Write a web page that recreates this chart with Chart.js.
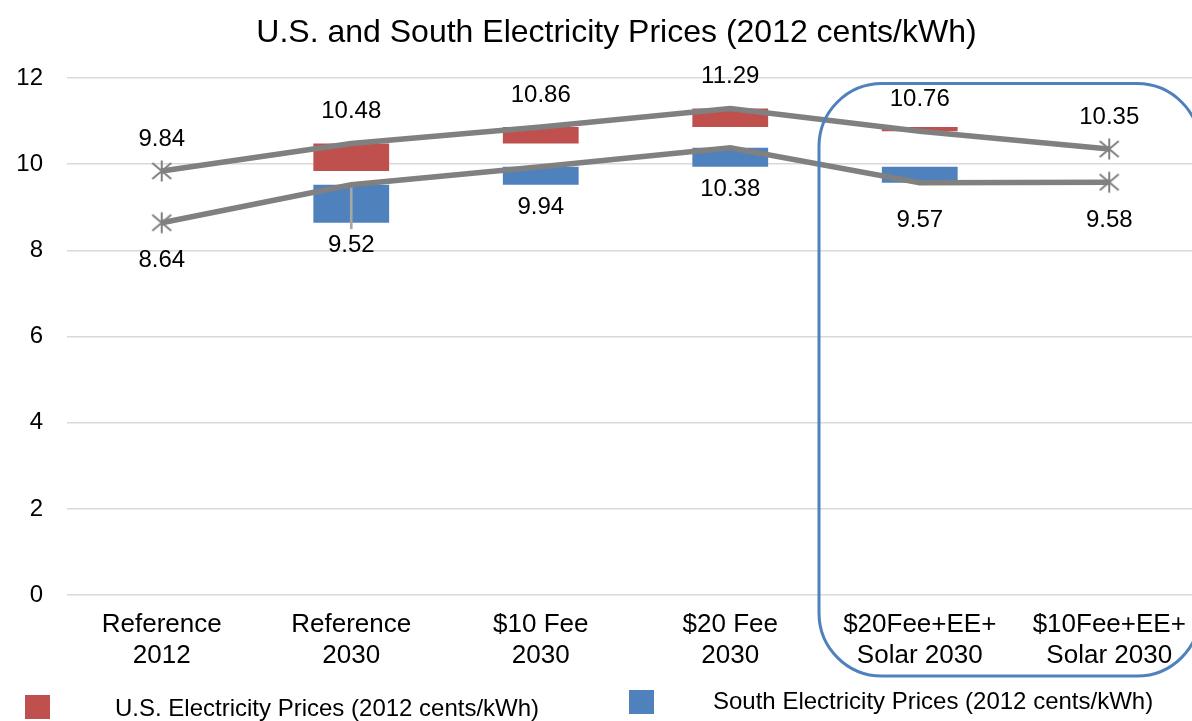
<!DOCTYPE html>
<html>
<head>
<meta charset="utf-8">
<script src="https://cdn.jsdelivr.net/npm/chart.js@4.4.1/dist/chart.umd.min.js"></script>
<style>
  html, body { margin: 0; padding: 0; background: #fff; overflow: hidden; }
  #wrap { width: 1192px; height: 721px; overflow: hidden; }
</style>
</head>
<body>
<div id="wrap">
  <canvas id="priceChart" width="1262" height="721"></canvas>
</div>
<script>
const scenarios = [
  ['Reference', '2012'],
  ['Reference', '2030'],
  ['$10 Fee', '2030'],
  ['$20 Fee', '2030'],
  ['$20Fee+EE+', 'Solar 2030'],
  ['$10Fee+EE+', 'Solar 2030']
];

// price levels by scenario (2012 cents/kWh)
const usPrices = [9.84, 10.48, 10.86, 11.29, 10.76, 10.35];
const southPrices = [8.64, 9.52, 9.94, 10.38, 9.57, 9.58];

// change bars: [from, to] relative to the previous scenario
const usChange = [null, [9.84, 10.48], [10.48, 10.86], [10.86, 11.29], [10.76, 10.86], null];
const southChange = [null, [8.64, 9.52], [9.52, 9.94], [9.94, 10.38], [9.57, 9.94], null];
const southDrop = [null, [8.5, 9.52], null, null, null, null];

const yTicks = [0, 2, 4, 6, 8, 10, 12];

const RED = '#c0504d';
const BLUE = '#4f81bd';
const GRAY = '#808080';
const FONT = "'Liberation Sans', Arial, sans-serif";

// asterisk marker for the end points
function makeStar() {
  const c = document.createElement('canvas');
  c.width = 24; c.height = 24;
  const g = c.getContext('2d');
  g.strokeStyle = GRAY;
  g.lineWidth = 2;
  g.beginPath();
  g.moveTo(12, 1.5); g.lineTo(12, 22.5);
  g.moveTo(2.5, 4); g.lineTo(21.5, 20);
  g.moveTo(21.5, 4); g.lineTo(2.5, 20);
  g.stroke();
  return c;
}
const star = makeStar();
const endPoints = usPrices.map((v, i) => (i === 0 || i === usPrices.length - 1) ? 10 : 0);

// nudge the title box so it centres a little to the right
const titleShift = {
  id: 'titleShift',
  afterLayout(chart) {
    if (chart.titleBlock) chart.titleBlock.left += 29;
  }
};

const valueLabels = {
  id: 'valueLabels',
  afterDatasetsDraw(chart) {
    const ctx = chart.ctx;
    const y = chart.scales.y;
    ctx.save();
    ctx.font = '24px ' + FONT;
    ctx.fillStyle = '#000';
    ctx.textAlign = 'center';
    ctx.textBaseline = 'middle';
    chart.getDatasetMeta(0).data.forEach((pt, i) => {
      ctx.fillText(usPrices[i].toFixed(2), pt.x, pt.y - 32);
    });
    chart.getDatasetMeta(1).data.forEach((pt, i) => {
      let ly = pt.y + 38;
      if (southChange[i]) {
        const barBottom = y.getPixelForValue(Math.min(...southChange[i]));
        ly = Math.max(ly, barBottom + 23);
      }
      ctx.fillText(southPrices[i].toFixed(2), pt.x, ly);
    });
    ctx.restore();
  }
};

// rounded outline around the combined-policy scenarios
const highlight = {
  id: 'highlight',
  afterDraw(chart) {
    const x = chart.scales.x, y = chart.scales.y;
    const left = x.getPixelForValue(3.5) - 6;
    const right = x.getPixelForValue(5.5) - 4;
    const top = y.getPixelForValue(11.87);
    const bottom = y.getPixelForValue(0) + 81;
    const r = 63;
    const ctx = chart.ctx;
    ctx.save();
    ctx.strokeStyle = BLUE;
    ctx.lineWidth = 3;
    ctx.beginPath();
    ctx.roundRect(left, top, right - left, bottom - top, r);
    ctx.stroke();
    ctx.restore();
  }
};

const bottomLegend = {
  id: 'bottomLegend',
  afterDraw(chart) {
    const ctx = chart.ctx;
    const items = [
      { ds: chart.data.datasets[2], box: [25, 695], text: [115, 709] },
      { ds: chart.data.datasets[3], box: [629, 690], text: [713, 702] }
    ];
    ctx.save();
    ctx.font = '24px ' + FONT;
    ctx.textBaseline = 'middle';
    ctx.textAlign = 'left';
    items.forEach(it => {
      ctx.fillStyle = it.ds.backgroundColor;
      ctx.fillRect(it.box[0], it.box[1], 25, 24);
      ctx.fillStyle = '#000';
      ctx.fillText(it.ds.label, it.text[0], it.text[1]);
    });
    ctx.restore();
  }
};

new Chart(document.getElementById('priceChart'), {
  data: {
    labels: scenarios,
    datasets: [
      {
        type: 'line',
        label: 'U.S.',
        data: usPrices,
        borderColor: GRAY,
        borderWidth: 5.5,
        tension: 0,
        pointStyle: star,
        pointRadius: endPoints,
        pointHoverRadius: endPoints,
        order: 0
      },
      {
        type: 'line',
        label: 'South',
        data: southPrices,
        borderColor: GRAY,
        borderWidth: 5.5,
        tension: 0,
        pointStyle: star,
        pointRadius: endPoints,
        pointHoverRadius: endPoints,
        order: 0
      },
      {
        type: 'bar',
        label: 'U.S. Electricity Prices (2012 cents/kWh)',
        data: usChange,
        backgroundColor: RED,
        grouped: false,
        categoryPercentage: 1,
        barPercentage: 0.4,
        order: 2
      },
      {
        type: 'bar',
        label: 'South Electricity Prices (2012 cents/kWh)',
        data: southChange,
        backgroundColor: BLUE,
        grouped: false,
        categoryPercentage: 1,
        barPercentage: 0.4,
        order: 2
      },
      {
        type: 'bar',
        label: 'drop',
        data: southDrop,
        backgroundColor: '#a6a6a6',
        grouped: false,
        barThickness: 2,
        order: 1
      }
    ]
  },
  options: {
    responsive: false,
    animation: false,
    layout: { padding: { left: 0, right: 58, top: 0, bottom: 35.5 } },
    plugins: {
      legend: { display: false },
      tooltip: { enabled: false },
      title: {
        display: true,
        text: 'U.S. and South Electricity Prices (2012 cents/kWh)',
        color: '#000',
        font: { family: FONT, size: 32, weight: 'normal' },
        padding: { top: 14, bottom: 25.5 }
      }
    },
    scales: {
      x: {
        offset: true,
        grid: { display: false, drawTicks: false },
        border: { display: false },
        ticks: {
          color: '#000',
          font: { family: FONT, size: 26 },
          padding: 14,
          maxRotation: 0,
          autoSkip: false
        }
      },
      y: {
        min: 0,
        max: 12,
        afterFit(scale) { scale.width = 67; },
        afterBuildTicks(scale) { scale.ticks = yTicks.map(v => ({ value: v })); },
        grid: { color: '#d9d9d9', lineWidth: 1.5, drawTicks: false },
        border: { display: false },
        ticks: {
          color: '#000',
          font: { family: FONT, size: 24 },
          padding: 24
        }
      }
    }
  },
  plugins: [titleShift, valueLabels, highlight, bottomLegend]
});
</script>
</body>
</html>
